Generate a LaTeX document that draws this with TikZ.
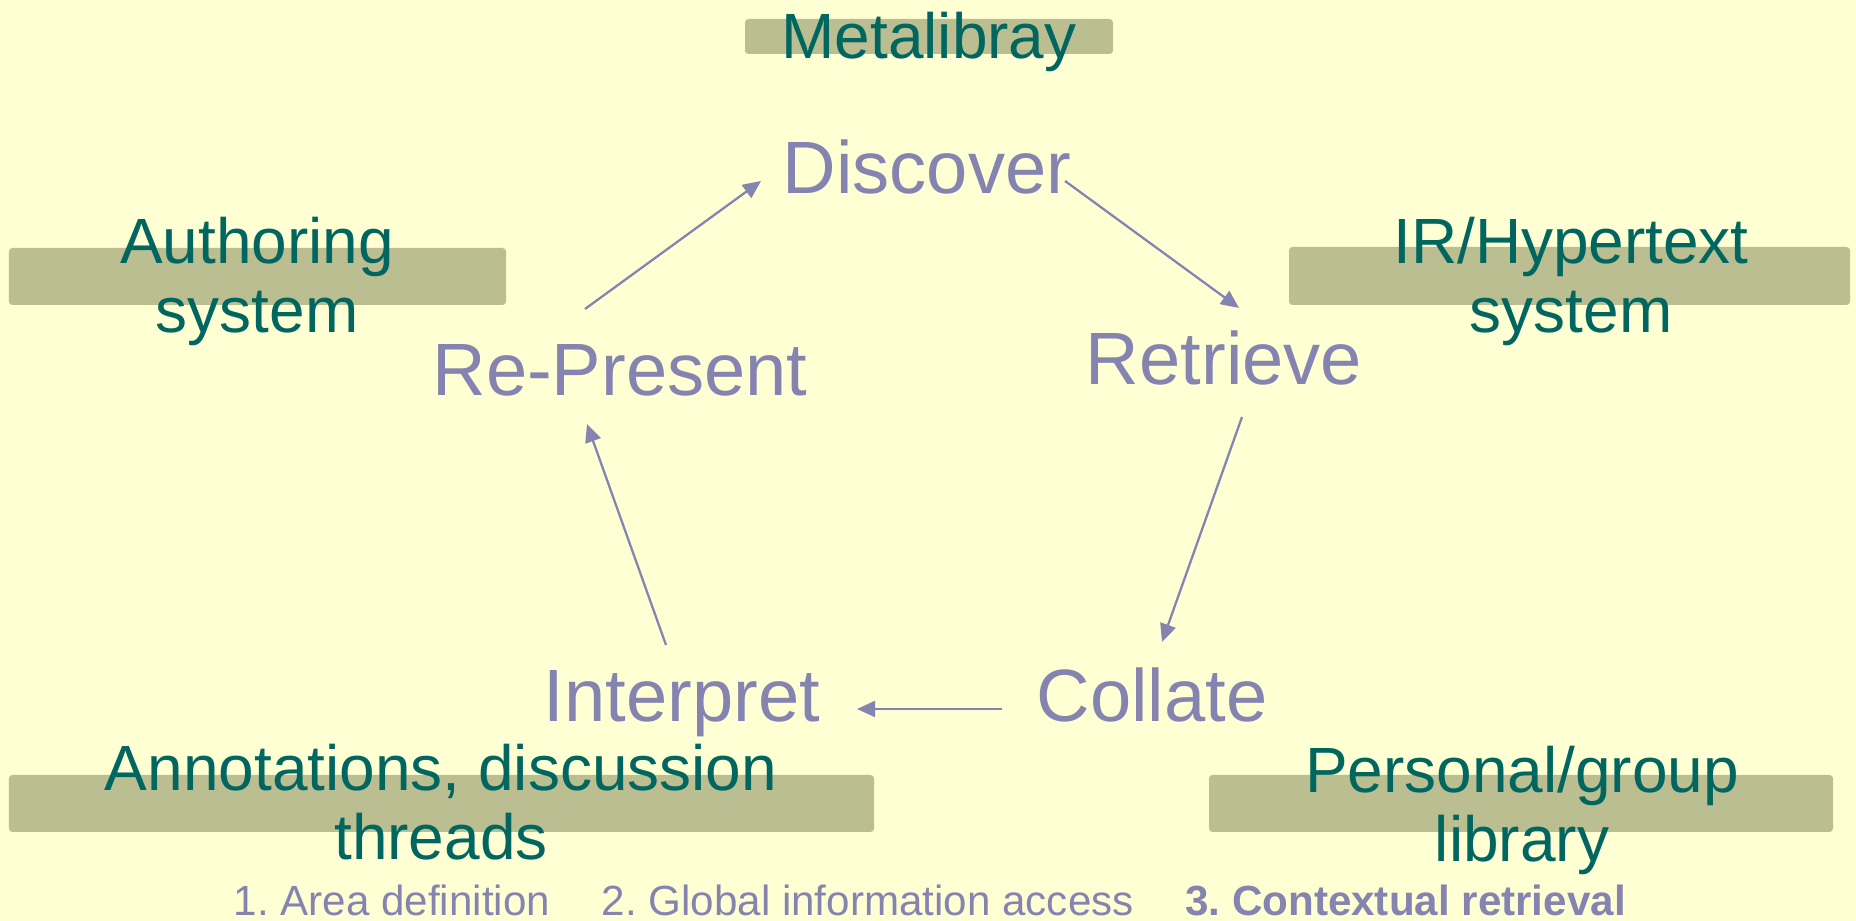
\documentclass[tikz,border=0pt]{standalone}
\usepackage{fontspec}
\setmainfont{Liberation Sans}
\usepackage{xcolor}
\usepackage{tikz}
\usetikzlibrary{arrows.meta,positioning}
\definecolor{PaleYellow}{HTML}{FFFFD4}
\definecolor{BandOlive}{HTML}{BBBE90}
\definecolor{SysTeal}{HTML}{00665F}
\definecolor{StageLilac}{HTML}{8584B1}
\frenchspacing

\begin{document}
\begin{tikzpicture}[
  band/.style={fill=BandOlive,rounded corners=1pt,inner sep=0pt},
  sys/.style={text=SysTeal,align=center,inner sep=0pt,anchor=base,font=\fontsize{18.2}{19.9}\selectfont},
  stage/.style={text=StageLilac,inner sep=0pt,anchor=base,font=\fontsize{21.1}{24}\selectfont},
  note/.style={text=StageLilac,inner sep=0pt,font=\fontsize{12}{14}\selectfont},
  arr/.style={-{Triangle[length=1.8mm,width=1.6mm]},line width=0.65pt,draw=StageLilac}
]
\fill[PaleYellow] (0,0) rectangle (18.56,9.21);
\useasboundingbox (0,0) rectangle (18.56,9.21);

% grey bands behind the system names
\node[band,minimum width=3.68cm,minimum height=0.35cm] (metaband) at (9.29,8.845) {};
\node[band,minimum width=4.97cm,minimum height=0.57cm] (authband) at (2.575,6.445) {};
\node[band,minimum width=5.61cm,minimum height=0.58cm] (irband) at (15.695,6.45) {};
\node[band,minimum width=8.65cm,minimum height=0.57cm] (annoband) at (4.415,1.175) {};
\node[band,minimum width=6.24cm,minimum height=0.57cm] (persband) at (15.21,1.175) {};

% (base of a two-line label = its last line)
\node[sys] (metalib) at (9.29,8.62) {Metalibray};
\node[sys] (authoring) at (2.57,5.88) {Authoring\\system};
\node[sys] (irhyper) at (15.71,5.88) {IR/Hypertext\\system};
\node[sys] (annotations) at (4.41,0.61) {Annotations, discussion\\threads};
\node[sys] (personal) at (15.22,0.59) {Personal/group\\library};

% the cycle
\node[stage] (discover) at (9.27,7.27) {Discover};
\node[stage] (retrieve) at (12.24,5.36) {Retrieve};
\node[stage] (collate) at (11.52,1.99) {Collate};
\node[stage] (interpret) at (6.82,1.99) {Interpret};
\node[stage] (represent) at (6.20,5.25) {Re-Present};

\draw[arr] ([shift={(-0.35,0.87)}]represent.base) -- ([shift={(-1.66,0.13)}]discover.base);
\draw[arr] ([shift={(1.38,0.13)}]discover.base) -- ([shift={(0.15,0.77)}]retrieve.base);
\draw[arr] ([shift={(0.18,-0.32)}]retrieve.base) -- ([shift={(0.10,0.80)}]collate.base);
\draw[arr] ([shift={(-1.50,0.13)}]collate.base) -- ([shift={(1.75,0.13)}]interpret.base);
\draw[arr] ([shift={(-0.16,0.77)}]interpret.base) -- ([shift={(-0.33,-0.28)}]represent.base);

% phases
\node[note,anchor=base west] (phase1) at (2.33,0.05) {1. Area definition};
\node[note,base right=0.5cm of phase1] (phase2) {2. Global information access};
\node[note,base right=0.5cm of phase2,font=\fontsize{12}{14}\selectfont\bfseries] (phase3) {3. Contextual retrieval};
\end{tikzpicture}
\end{document}
